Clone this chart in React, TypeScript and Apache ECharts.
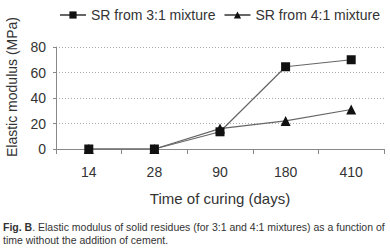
import React, { useEffect, useRef } from "react";
import * as echarts from "echarts";

const categories = ["14", "28", "90", "180", "410"];
const sr31 = [0, 0, 13.5, 64.5, 70];
const sr41 = [0, 0, 16, 22, 31];
const seriesNames = ["SR from 3:1 mixture", "SR from 4:1 mixture"];
const yTicks = { min: 0, max: 80, interval: 20 };

const FONT = "'Liberation Sans', Arial, sans-serif";

export default function App() {
  const ref = useRef<HTMLDivElement>(null);
  useEffect(() => {
    if (!ref.current) return;
    const chart = echarts.init(ref.current, undefined, { renderer: "svg" });
    chart.setOption({
      animation: false,
      backgroundColor: "#fff",
      textStyle: { fontFamily: FONT },
      grid: { left: 56, right: 6, top: 47, bottom: 101, containLabel: false },
      legend: {
        top: 3,
        left: 54,
        itemWidth: 26,
        itemHeight: 9,
        itemGap: 8,
        textStyle: { fontSize: 14, color: "#333", fontFamily: FONT },
        data: seriesNames.map((n) => ({ name: n })),
      },
      xAxis: {
        type: "category",
        data: categories,
        boundaryGap: true,
        axisLine: { lineStyle: { color: "#888", width: 1 } },
        axisTick: { show: true, length: 5, lineStyle: { color: "#888" } },
        axisLabel: { fontSize: 14, color: "#333", margin: 16, fontFamily: FONT },
        name: "Time of curing (days)",
        nameLocation: "middle",
        nameGap: 42,
        nameTextStyle: { fontSize: 15, color: "#333", fontFamily: FONT, fontWeight: "normal" },
      },
      yAxis: {
        type: "value",
        min: yTicks.min,
        max: yTicks.max,
        interval: yTicks.interval,
        axisLine: { show: true, lineStyle: { color: "#888", width: 1 } },
        axisTick: { show: true, length: 3, lineStyle: { color: "#888" } },
        axisLabel: { fontSize: 14, color: "#333", margin: 10, fontFamily: FONT },
        splitLine: { show: true, lineStyle: { color: "#aaa", type: [1, 2], width: 1 } },
      },
      graphic: [
        {
          type: "text",
          x: 12,
          y: 87,
          rotation: Math.PI / 2,
          style: {
            text: "Elastic modulus (MPa)",
            font: `14px ${FONT}`,
            fill: "#333",
            textAlign: "center",
            textVerticalAlign: "middle",
          },
        },
        {
          type: "text",
          x: 3,
          y: 221,
          style: {
            text: "{b|Fig. B}. Elastic modulus of solid residues (for 3:1 and 4:1 mixtures) as a function of\ntime without the addition of cement.",
            font: `10.5px ${FONT}`,
            fill: "#333",
            lineHeight: 12.5,
            rich: {
              b: { fontWeight: "bold", fontSize: 10.5, fontFamily: FONT, fill: "#333" },
            },
          },
        },
      ],
      series: [
        {
          name: seriesNames[1],
          type: "line",
          data: sr41,
          symbol: "triangle",
          symbolSize: 10,
          itemStyle: { color: "#111" },
          lineStyle: { color: "#666", width: 1.2 },
          z: 2,
        },
        {
          name: seriesNames[0],
          type: "line",
          data: sr31,
          symbol: "rect",
          symbolSize: 9,
          itemStyle: { color: "#111" },
          lineStyle: { color: "#666", width: 1.2 },
          z: 3,
        },
      ],
    });
    return () => chart.dispose();
  }, []);
  return <div ref={ref} style={{ width: 390, height: 250, position: "absolute", left: 0, top: 0 }} />;
}
